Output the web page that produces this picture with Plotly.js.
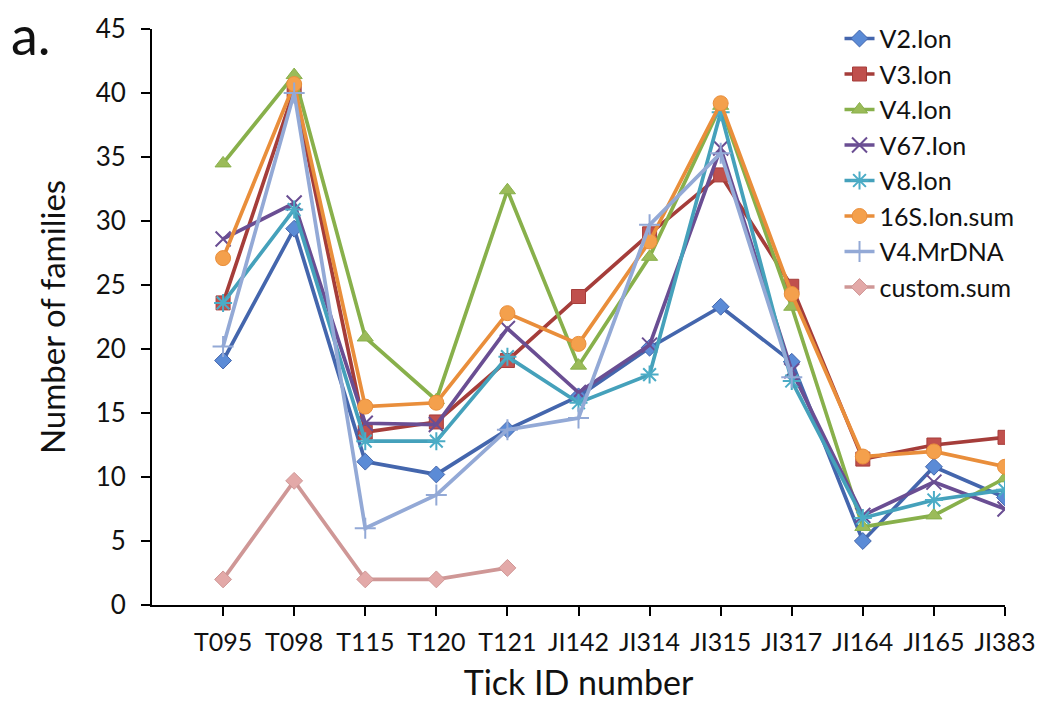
<!DOCTYPE html>
<html>
<head>
<meta charset="utf-8">
<script src="https://cdn.plot.ly/plotly-3.0.1.min.js"></script>
<style>html,body{margin:0;padding:0;background:#fff;}#chart{width:1039px;height:702px;}</style>
</head>
<body>
<div id="chart"></div>
<script>
const categories = ["T095","T098","T115","T120","T121","JI142","JI314","JI315","JI317","JI164","JI165","JI383"];
const v2Ion   = [19.1, 29.4, 11.2, 10.2, 13.7, 16.3, 20.1, 23.3, 19.0, 5.0, 10.8, 8.4];
const v3Ion   = [23.6, 40.2, 13.5, 14.3, 19.1, 24.1, 29.0, 33.6, 24.9, 11.4, 12.5, 13.1];
const v4Ion   = [34.5, 41.4, 20.9, 16.0, 32.4, 18.7, 27.2, 39.0, 23.3, 6.1, 7.0, 9.9];
const v67Ion  = [28.6, 31.4, 14.2, 14.1, 21.6, 16.6, 20.3, 35.7, 18.3, 7.0, 9.6, 7.5];
const v8Ion   = [23.6, 30.9, 12.8, 12.8, 19.4, 15.8, 18.0, 38.5, 17.5, 6.8, 8.2, 9.0];
const s16Sum  = [27.1, 40.7, 15.5, 15.8, 22.8, 20.4, 28.4, 39.2, 24.3, 11.6, 12.0, 10.8];
const v4MrDNA = [20.2, 40.0, 6.0, 8.6, 13.7, 14.6, 29.7, 35.3, 17.8];
const customSum = [2.0, 9.7, 2.0, 2.0, 2.9];

const seriesNames = ["V2.Ion","V3.Ion","V4.Ion","V67.Ion","V8.Ion","16S.Ion.sum","V4.MrDNA","custom.sum"];
const seriesData = [v2Ion, v3Ion, v4Ion, v67Ion, v8Ion, s16Sum, v4MrDNA, customSum];
const lineColors = ["#4466ad","#a53d3a","#88b04b","#6a4e93","#45a1bb","#e98e3b","#93a9d6","#cf9796"];
const markerColors = ["#5b8bd6","#c0504d","#9bbb59","#6a4e93","#4bacc6","#f4a04c","#93a9d6","#e3a9a8"];
const symbols = ["diamond","square","triangle-up","x-thin-open","asterisk-open","circle","cross-thin-open","diamond"];
const sizes = [13,14,14,15,15,15,15,13];

const font = "Lato, 'Open Sans', sans-serif";

const traces = seriesData.map((vals, i) => {
  const open = symbols[i].indexOf("open") >= 0;
  return {
    type: "scatter",
    mode: "lines+markers",
    name: seriesNames[i],
    legendgroup: "g" + i,
    x: categories.slice(0, vals.length),
    y: vals,
    line: {color: lineColors[i], width: 3.7},
    marker: {
      symbol: symbols[i],
      size: sizes[i],
      color: markerColors[i],
      line: open ? {color: markerColors[i], width: 2} : {color: lineColors[i], width: 1}
    }
  };
});

const layout = {
  width: 1039,
  height: 702,
  margin: {l: 152, r: 34, t: 29, b: 97},
  paper_bgcolor: "#fff",
  plot_bgcolor: "#fff",
  font: {family: font, size: 25, color: "#111"},
  showlegend: true,
  legend: {
    x: 0.806, y: 1.023, xanchor: "left", yanchor: "top",
    font: {family: font, size: 25, color: "#111"},
    tracegroupgap: 0,
    bgcolor: "rgba(0,0,0,0)"
  },
  xaxis: {
    type: "category",
    range: [-1, 11],
    showgrid: false,
    zeroline: false,
    showline: true,
    linecolor: "#000",
    linewidth: 2,
    ticks: "outside",
    ticklen: 9,
    tickwidth: 2,
    tickcolor: "#000",
    ticklabelstandoff: 5,
    tickfont: {family: font, size: 25, color: "#111"},
    title: {text: "Tick ID number", font: {family: font, size: 34, color: "#111"}, standoff: 18}
  },
  yaxis: {
    range: [0, 45],
    dtick: 5,
    tick0: 0,
    showgrid: false,
    zeroline: false,
    showline: true,
    linecolor: "#000",
    linewidth: 2,
    ticks: "outside",
    ticklen: 9,
    tickwidth: 2,
    tickcolor: "#000",
    ticklabelstandoff: 10,
    tickfont: {family: font, size: 26, color: "#111"},
    title: {text: "Number of families", font: {family: font, size: 33, color: "#111"}, standoff: 20}
  },
  annotations: [{
    text: "a.",
    xref: "paper", yref: "paper",
    x: -0.168, y: 0.99,
    xanchor: "left", yanchor: "middle",
    showarrow: false,
    font: {family: font, size: 54, color: "#111"}
  }]
};

Plotly.newPlot("chart", traces, layout, {displayModeBar: false, staticPlot: true});
</script>
</body>
</html>
